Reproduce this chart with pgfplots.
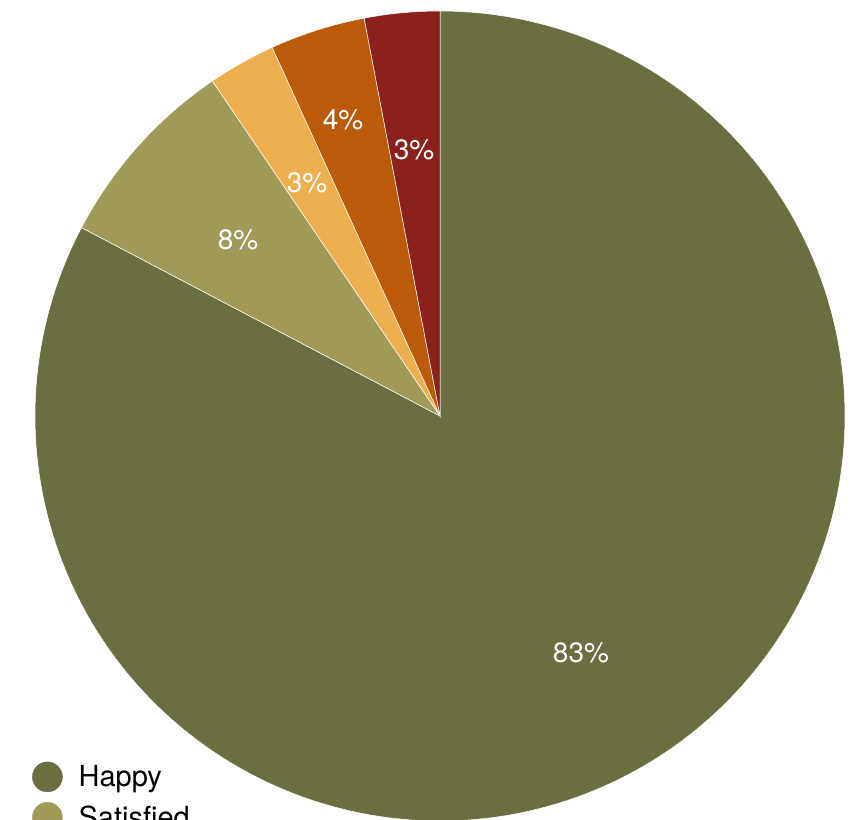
\documentclass[border=0pt]{standalone}
\usepackage{pgfplots}
\pgfplotsset{compat=1.18}
\usepackage{fontspec}
\setmainfont{TeX Gyre Heros}
\definecolor{cHappy}{HTML}{6B6E40}
\definecolor{cSat}{HTML}{A09A58}
\definecolor{cC}{HTML}{EEAF4E}
\definecolor{cD}{HTML}{BB5B09}
\definecolor{cE}{HTML}{8B211D}
% slice shares (percent), clockwise from 12 o'clock
\def\vA{82.7}\def\vB{7.8}\def\vC{2.7}\def\vD{3.8}\def\vE{3.0}
\begin{document}
\begin{tikzpicture}
\clip (0,0) rectangle (858pt,819pt);
\pgfmathsetmacro{\aA}{90}
\pgfmathsetmacro{\aB}{90-3.6*\vA}
\pgfmathsetmacro{\aC}{\aB-3.6*\vB}
\pgfmathsetmacro{\aD}{\aC-3.6*\vC}
\pgfmathsetmacro{\aE}{\aD-3.6*\vD}
\pgfmathsetmacro{\aF}{\aE-3.6*\vE}
\begin{axis}[
  at={(0,0)}, anchor=south west,
  x=1pt, y=1pt, xmin=0, xmax=858, ymin=0, ymax=819,
  hide axis, clip=true,
  legend style={at={(29/858,59.5/819)}, anchor=north west, draw=none, fill=none,
    font=\fontsize{29}{33}\selectfont, row sep=10pt,
    nodes={inner sep=0pt}, /tikz/every odd column/.style={column sep=16pt}},
  legend cell align=left,
]
\addlegendimage{legend image code/.code={\fill[cHappy] (15pt,0pt) circle (15pt);}}
\addlegendentry{Happy}
\addlegendimage{legend image code/.code={\fill[cSat] (15pt,0pt) circle (15pt);}}
\addlegendentry{Satisfied}
\addplot[fill=cHappy, draw=white, line width=0.5pt, domain=\aB:\aA, samples=200, forget plot]
  ({440+405*cos(x)}, {403+405*sin(x)}) -- (axis cs:440,403) -- cycle;
\addplot[fill=cSat, draw=white, line width=0.5pt, domain=\aC:\aB, samples=40, forget plot]
  ({440+405*cos(x)}, {403+405*sin(x)}) -- (axis cs:440,403) -- cycle;
\addplot[fill=cC, draw=white, line width=0.5pt, domain=\aD:\aC, samples=20, forget plot]
  ({440+405*cos(x)}, {403+405*sin(x)}) -- (axis cs:440,403) -- cycle;
\addplot[fill=cD, draw=white, line width=0.5pt, domain=\aE:\aD, samples=20, forget plot]
  ({440+405*cos(x)}, {403+405*sin(x)}) -- (axis cs:440,403) -- cycle;
\addplot[fill=cE, draw=white, line width=0.5pt, domain=\aF:\aE, samples=20, forget plot]
  ({440+405*cos(x)}, {403+405*sin(x)}) -- (axis cs:440,403) -- cycle;
\begin{scope}[every node/.style={text=white, font=\fontsize{28}{32}\selectfont, inner sep=0pt}]
\node at (axis cs:581,166) {83\%};
\node at (axis cs:238,579) {8\%};
\node at (axis cs:307,636) {3\%};
\node at (axis cs:343,699) {4\%};
\node at (axis cs:414,669) {3\%};
\end{scope}
\end{axis}
\end{tikzpicture}
\end{document}
